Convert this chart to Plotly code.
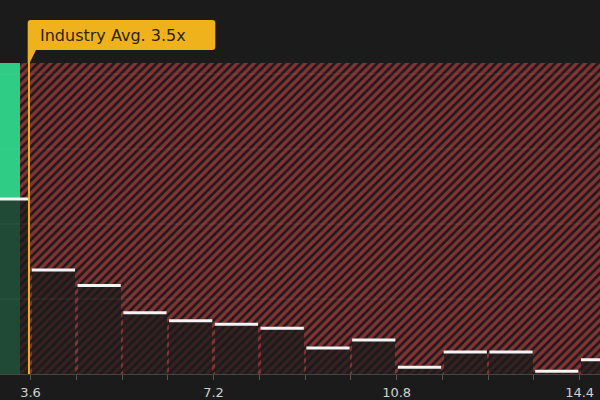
import plotly.graph_objects as go

# ---- data ----
bin_start = 2.7
bin_width = 0.9
bin_counts = [2.333, 1.387, 1.18, 0.817, 0.71, 0.662, 0.609, 0.347, 0.453, 0.089, 0.293, 0.293, 0.036, 0.191]
company_value = 3.39
industry_avg = 3.57
industry_label = "Industry Avg. 3.5x"
tick_values = [3.6, 4.5, 5.4, 6.3, 7.2, 8.1, 9.0, 9.9, 10.8, 11.7, 12.6, 13.5, 14.4]
tick_labels = ["3.6", "", "", "", "7.2", "", "", "", "10.8", "", "", "", "14.4"]
x_range = [3.0, 14.8]
y_top = 4.147

# ---- styling ----
BG = "#1b1b1b"
GREEN = "#2ecc85"
RED = "#f24a4a"
YELLOW = "#f0b21c"
W, H = 600, 400
M_T, M_B = 63, 26
plot_h = H - M_T - M_B


def py(p):
    """pixel y -> paper y"""
    return (H - M_B - p) / plot_h


def px(p):
    return p / W


centers = [bin_start + bin_width * (i + 0.5) for i in range(len(bin_counts))]
bar_w = bin_width * 0.945

fig = go.Figure()

# green (below company value) region
fig.add_trace(go.Bar(
    x=[(x_range[0] + company_value) / 2], y=[y_top], width=[company_value - x_range[0]],
    marker=dict(color=GREEN, line=dict(width=0)), hoverinfo="skip", showlegend=False))

# red hatched region
fig.add_trace(go.Bar(
    x=[(company_value + x_range[1]) / 2], y=[y_top], width=[x_range[1] - company_value],
    marker=dict(color="rgba(0,0,0,0)", line=dict(width=0),
                pattern=dict(shape="/", fgcolor=RED, size=6, solidity=0.55)),
    hoverinfo="skip", showlegend=False))

# histogram bars (dark overlay)
fig.add_trace(go.Bar(
    x=centers, y=bin_counts, width=[bar_w] * len(centers),
    marker=dict(color="rgba(27,27,27,0.74)", line=dict(width=0)),
    hoverinfo="skip", showlegend=False))

# white tops
lx, ly = [], []
for c, v in zip(centers, bin_counts):
    lx += [c - bar_w / 2, c + bar_w / 2, None]
    ly += [v, v, None]
fig.add_trace(go.Scatter(x=lx, y=ly, mode="lines",
                         line=dict(color="#f4f4f4", width=3),
                         hoverinfo="skip", showlegend=False))

fig.update_layout(barmode="overlay", bargap=0)

shapes = []
# gridlines above
for g in [1, 2, 3, 4]:
    shapes.append(dict(type="line", xref="paper", yref="y", x0=0, x1=1, y0=g, y1=g,
                       line=dict(color="rgba(255,255,255,0.07)", width=1), layer="above"))

# industry average line
shapes.append(dict(type="line", xref="x", yref="paper", x0=industry_avg, x1=industry_avg,
                   y0=0, y1=py(52), line=dict(color=YELLOW, width=2), layer="above"))

# callout box with tail
x0b, x1b, y0b, y1b, r = 27.7, 215.3, 20, 50, 3
tail_x = 36
path = (
    f"M {px(x0b)} {py(y0b + r)} "
    f"Q {px(x0b)} {py(y0b)} {px(x0b + r)} {py(y0b)} "
    f"L {px(x1b - r)} {py(y0b)} "
    f"Q {px(x1b)} {py(y0b)} {px(x1b)} {py(y0b + r)} "
    f"L {px(x1b)} {py(y1b - r)} "
    f"Q {px(x1b)} {py(y1b)} {px(x1b - r)} {py(y1b)} "
    f"L {px(tail_x)} {py(y1b)} "
    f"L {px(29.5)} {py(63)} "
    f"L {px(x0b)} {py(63)} Z"
)
shapes.append(dict(type="path", xref="paper", yref="paper", path=path,
                   fillcolor=YELLOW, line=dict(width=0), layer="above"))

fig.update_layout(shapes=shapes)

fig.add_annotation(xref="paper", yref="paper", x=px(38), y=py(35),
                   xanchor="left", yanchor="middle", showarrow=False,
                   text=industry_label,
                   font=dict(family="DejaVu Sans", size=16, color="#2b2410"))

fig.update_xaxes(range=x_range, showgrid=False, zeroline=False, automargin=False,
                 showline=True, linecolor="#454545", linewidth=1,
                 ticks="outside", ticklen=5, tickcolor="#555555", tickwidth=1,
                 tickvals=tick_values, ticktext=tick_labels, ticklabelstandoff=1,
                 tickfont=dict(family="DejaVu Sans", size=13, color="#d0d0d0"))
fig.update_yaxes(range=[0, y_top], visible=False, showgrid=False, automargin=False)

fig.update_layout(width=W, height=H, paper_bgcolor=BG, plot_bgcolor=BG,
                  margin=dict(l=0, r=0, t=M_T, b=M_B), showlegend=False)

fig.write_html("out.html", config={"displayModeBar": False},
               post_script="document.body.style.margin='0';document.body.style.background='#1b1b1b';")
